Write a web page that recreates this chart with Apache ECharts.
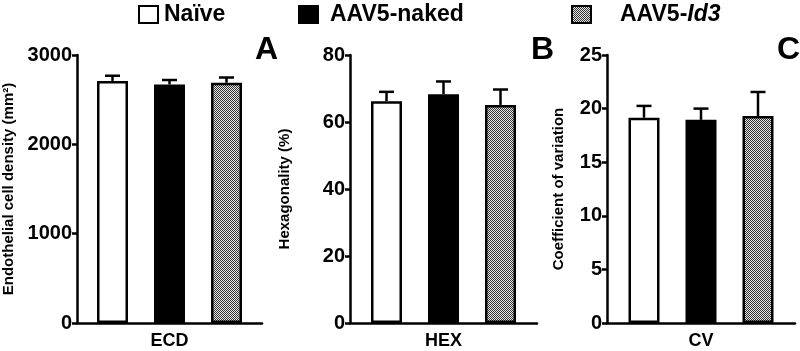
<!DOCTYPE html>
<html>
<head>
<meta charset="UTF-8">
<script src="https://cdn.jsdelivr.net/npm/echarts@6/dist/echarts.min.js"></script>
<style>
  html, body { margin: 0; padding: 0; background: #fff; }
  #chart { width: 800px; height: 351px; }
</style>
</head>
<body>
<div id="chart"></div>
<script>
// groups and values
var groups = ['Naïve', 'AAV5-naked', 'AAV5-Id3'];
var panels = ['ECD', 'HEX', 'CV'];
var ecdMean = [2710, 2670, 2690];
var ecdErr = [58, 50, 58];
var hexMean = [66.2, 68.3, 65.1];
var hexErr = [2.8, 3.8, 4.6];
var cvMean = [19.15, 18.95, 19.3];
var cvErr = [1.1, 1.05, 2.25];
var yMax = [3000, 80, 25];
var yStep = [1000, 20, 5];
var yNames = ['Endothelial cell density (mm²)', 'Hexagonality (%)', 'Coefficient of variation'];

var means = [ecdMean, hexMean, cvMean];
var errs = [ecdErr, hexErr, cvErr];

var font = 'Liberation Sans, Arial, sans-serif';
var barW = 31;
var barGapPx = 26;

// checker pattern for the AAV5-Id3 bars
var cv = document.createElement('canvas');
cv.width = 2; cv.height = 2;
var cx = cv.getContext('2d');
cx.fillStyle = '#e8e8e8'; cx.fillRect(0, 0, 2, 2);
cx.fillStyle = '#333'; cx.fillRect(0, 0, 1, 1); cx.fillRect(1, 1, 1, 1);
var checker = { image: cv, repeat: 'repeat' };
var fills = ['#fff', '#000', checker];

var grids = [
    { left: 74, top: 55, width: 188, bottom: 28 },
    { left: 350, top: 55, width: 187, bottom: 28 },
    { left: 607, top: 55, width: 188, bottom: 28 }
];
var nameGaps = [61, 58, 41];

var xAxes = [], yAxes = [], series = [];
for (var p = 0; p < 3; p++) {
    xAxes.push({
        gridIndex: p, type: 'category', data: [panels[p]],
        axisLine: { lineStyle: { color: '#000', width: 2.5 } },
        axisTick: { show: false },
        axisLabel: { color: '#000', fontSize: 18, fontWeight: 'bold', fontFamily: font, margin: 9 }
    });
    yAxes.push({
        gridIndex: p, type: 'value', min: 0, max: yMax[p], interval: yStep[p],
        name: yNames[p], nameLocation: 'middle', nameGap: nameGaps[p],
        nameTextStyle: { color: '#000', fontSize: 15, fontWeight: 'bold', fontFamily: font },
        axisLine: { show: true, lineStyle: { color: '#000', width: 2.5 } },
        axisTick: { show: true, length: 5, lineStyle: { color: '#000', width: 2.5 } },
        axisLabel: {
            color: '#000', fontSize: 20, fontWeight: 'bold', fontFamily: font, margin: 5,
            formatter: function (v) { return String(v); }
        },
        splitLine: { show: false }
    });
    for (var g = 0; g < 3; g++) {
        series.push({
            name: groups[g], type: 'bar', xAxisIndex: p, yAxisIndex: p,
            barWidth: barW, barGap: (barGapPx / barW * 100) + '%',
            data: [means[p][g]],
            itemStyle: { color: fills[g], borderColor: '#000', borderWidth: 2.5 },
            emphasis: { disabled: true }
        });
    }
    // upper error bars
    (function (p) {
        var d = [];
        for (var g = 0; g < 3; g++) d.push([0, means[p][g], means[p][g] + errs[p][g], g]);
        series.push({
            type: 'custom', xAxisIndex: p, yAxisIndex: p, z: 1,
            data: d,
            renderItem: function (params, api) {
                var off = (api.value(3) - 1) * (barW + barGapPx);
                var lo = api.coord([0, api.value(1)]);
                var hi = api.coord([0, api.value(2)]);
                var x = lo[0] + off;
                var st = { stroke: '#000', lineWidth: 2.5 };
                return {
                    type: 'group', children: [
                        { type: 'line', shape: { x1: x, y1: lo[1], x2: x, y2: hi[1] }, style: st },
                        { type: 'line', shape: { x1: x - 7.5, y1: hi[1], x2: x + 7.5, y2: hi[1] }, style: st }
                    ]
                };
            }
        });
    })(p);
}

function legendAt(name, left, pad, fmt) {
    return {
        data: [name], left: left, top: 3, padding: 0, icon: 'rect',
        itemWidth: 19, itemHeight: 17, selectedMode: false,
        itemStyle: { borderColor: '#000', borderWidth: 2 },
        textStyle: {
            color: '#000', fontSize: 23, fontWeight: 'bold', fontFamily: font, padding: [0, 0, 0, pad],
            rich: {
                b: { fontSize: 23, fontWeight: 'bold', fontFamily: font, color: '#000' },
                i: { fontSize: 23, fontWeight: 'bold', fontStyle: 'italic', fontFamily: font, color: '#000' }
            }
        },
        formatter: fmt
    };
}

var letters = ['A', 'B', 'C'];
var letterX = [255, 531, 777];

var chart = echarts.init(document.getElementById('chart'));
chart.setOption({
    animation: false,
    backgroundColor: '#fff',
    legend: [
        legendAt(groups[0], 138, 1),
        legendAt(groups[1], 298, 7),
        legendAt(groups[2], 571, 24, function () { return '{b|AAV5-}{i|Id3}'; })
    ],
    grid: grids,
    xAxis: xAxes,
    yAxis: yAxes,
    series: series,
    graphic: letters.map(function (t, i) {
        return {
            type: 'text', left: letterX[i], top: 34,
            style: { text: t, fontSize: 32, fontWeight: 'bold', fontFamily: font, fill: '#000' }
        };
    })
});
</script>
</body>
</html>
